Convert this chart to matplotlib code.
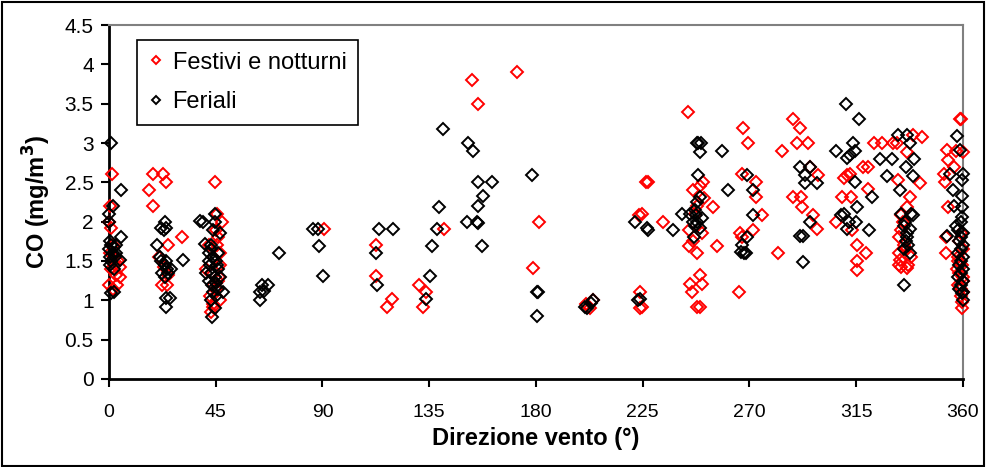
import matplotlib
matplotlib.use("Agg")
import matplotlib.pyplot as plt
from matplotlib.patches import Rectangle

plt.rcParams['font.family'] = ['Liberation Sans', 'DejaVu Sans']

# ---------------- data ----------------
series_names = ["Festivi e notturni", "Feriali"]

festivi_x = [
    1.1, 0.4, 0.2, 1, 1.7, 0.5, 2, 3.8, 4.6, 2.5, 4.6, 3, 0, 3.4, 1.5, 1,
    18.6, 22.8, 23.9, 16.9, 18.4, 30.6, 24.9, 22.2, 24.3, 25, 21, 23,
    44.7, 47.5, 45.4, 46.8, 44, 43, 45, 46, 42, 44, 47, 43, 46, 45, 42.5, 47, 44, 41, 46.5, 44, 45.5,
    90.6,
    112.4, 112.4, 119.2, 117.2,
    130.7, 133.6, 132.5, 141.2,
    152.9, 155.4, 172.2, 181.4, 178.9,
    202.8, 204, 201,
    226.4, 224.6, 223.5, 223.9, 223.9, 224.5,
    244, 250.5, 246.3, 249, 254.8, 227.1, 233.7, 244.7, 247.7, 256.4, 249.2, 245, 249.8, 245.6,
    247.7, 249, 248, 247, 250, 246, 251, 244.5,
    267.4, 269.3, 267, 272.8, 272.6, 275.4, 271.6, 267, 265.7, 282.2, 283.6, 266,
    288.5, 291.3, 290, 294.5, 288.5, 291.6, 292, 296.9, 295.5, 299, 298.3,
    322.5, 318, 320.1, 311.3, 312.5, 320.1, 308.9, 312.8, 306.4, 313, 315.5, 319.1, 315.5, 315.5, 310,
    339.1, 342.9, 336.2, 332.8, 341.9, 337.7, 336.2, 334, 333.5, 336.2, 333, 334, 333, 335, 336, 333,
    338, 334.5, 332, 330.5, 337, 334, 326,
    358.8, 359.2, 353.2, 353.8, 360, 352.4, 353.8, 352, 353, 353, 359.4, 359.4, 359, 358, 360, 358.5,
    359.5, 358, 360, 358.5, 359, 357.5, 360, 359, 358, 360, 357, 356,
]
festivi_y = [
    2.6, 2.2, 2.0, 1.92, 1.7, 1.6, 1.55, 1.5, 1.42, 1.45, 1.3, 1.32, 1.2, 1.2, 1.15, 1.4,
    2.6, 2.6, 2.5, 2.4, 2.2, 1.8, 1.7, 1.2, 1.2, 1.32, 1.55, 1.42,
    2.5, 2.0, 2.1, 1.6, 0.92, 0.85, 1.9, 1.8, 1.7, 1.55, 1.45, 1.35, 1.25, 1.15, 1.05, 1.0, 1.2, 1.4, 1.3, 0.95, 1.7,
    1.91,
    1.7, 1.31, 1.02, 0.92,
    1.19, 1.11, 0.92, 1.91,
    3.8, 3.5, 3.9, 2.0, 1.41,
    0.9, 1.0, 0.95,
    2.5, 2.1, 2.08, 1.11, 0.9, 0.92,
    3.4, 2.51, 2.4, 2.45, 2.19, 2.5, 2.0, 1.69, 1.6, 1.69, 1.32, 1.21, 1.21, 1.1,
    0.91, 0.91, 2.2, 2.1, 1.85, 1.75, 2.3, 1.9,
    3.19, 3.0, 2.6, 2.51, 2.31, 2.09, 1.9, 1.81, 1.1, 1.6, 2.9, 1.85,
    3.3, 3.19, 3.0, 3.0, 2.31, 2.31, 2.19, 2.08, 2.69, 2.59, 1.91,
    3.0, 2.69, 2.69, 2.59, 2.6, 2.41, 2.31, 2.31, 2.0, 1.9, 1.7, 1.6, 1.5, 1.39, 2.55,
    3.1, 3.08, 2.89, 2.53, 2.49, 2.31, 2.19, 2.08, 1.51, 1.41, 1.45, 1.9, 1.8, 1.7, 1.65, 1.6,
    1.55, 2.0, 3.0, 3.0, 1.45, 1.42, 3.0,
    3.31, 3.31, 2.91, 2.78, 2.89, 2.51, 2.19, 2.6, 1.8, 1.6, 0.9, 0.98, 1.05, 1.2, 1.25, 1.35,
    1.45, 1.55, 1.65, 1.75, 1.85, 1.4, 1.3, 1.15, 1.5, 1.1, 2.9, 2.7,
]

feriali_x = [
    1, 5, 1.5, 0, 0, 5, 0.5, 1, 2, 0, 1.5, 3, 0.5, 2.5, 4.5, 1, 0.5, 2, 1, 2, 3,
    23.6, 22, 24, 23, 20.1, 31.3, 22, 23.5, 24.5, 22.5, 25, 23.5, 24, 21.5, 24, 25.7, 23.9, 26,
    38.4, 39.8, 44.5, 44, 40.5, 43, 42, 44, 45, 42.5, 46, 43, 44.5, 42, 45, 43.5, 46, 44, 48.2, 45,
    43, 44.5, 43.3, 41, 47, 45.5, 42, 46, 47, 44.5, 43,
    63.7, 64.4, 67, 63.5, 65.5, 71.7,
    86, 88, 88.5, 90.2,
    113.8, 119.8, 112.4, 113,
    140.8, 139.1, 138.1, 136, 135.3, 133.6,
    151.2, 153.6, 155.4, 161.3, 157.7, 155.4, 150.8, 155, 155.5, 157.1, 178.2, 181, 180.5, 180.6,
    201.4, 204.2, 200.5, 203,
    221.7, 226.7, 223.2, 224,
    247.8, 248.5, 249.5, 249.2, 258.3, 248.2, 260.8, 249.2, 241.4, 247.6, 227.1, 237.9, 246, 248, 247,
    246.6, 248, 247, 249, 250, 245,
    268.8, 271.6, 271.6, 268.8, 267, 267.7, 268.5, 266.5,
    291.3, 295.5, 293.4, 293.4, 298.3, 295.5, 291.2, 292.5, 292.7,
    310.7, 316.3, 313.8, 306.5, 314.5, 311.3, 312.5, 314.5, 321.5, 315.5, 308.6, 310, 314.9, 311.3, 320.5, 312,
    332.4, 336.2, 337.7, 330, 339.5, 336, 328.1, 339.1, 333.5, 339.1, 335.6, 337.7, 336.2, 337.7, 335.2,
    334, 335, 336, 337, 335, 336.5, 338, 325,
    357.6, 358.8, 354.5, 360, 359.4, 355.9, 359.4, 359.4, 359.5, 353.2, 359, 358, 360, 359, 358.5, 360,
    359, 358, 360, 359, 358.5, 360, 359, 358, 360, 359, 358.5, 360, 359.4, 360, 356, 357,
]
feriali_y = [
    3.0, 2.4, 2.2, 2.1, 2.0, 1.8, 1.75, 1.7, 1.68, 1.65, 1.6, 1.6, 1.55, 1.55, 1.51, 1.5, 1.45, 1.4, 1.09, 1.1, 1.7,
    2.0, 1.92, 1.92, 1.9, 1.7, 1.51, 1.5, 1.45, 1.4, 1.35, 1.35, 1.3, 1.5, 1.55, 1.03, 1.03, 0.92, 1.4,
    2.01, 2.0, 2.1, 1.89, 1.72, 1.7, 1.6, 1.55, 1.5, 1.45, 1.4, 1.35, 1.3, 1.25, 1.22, 1.2, 1.15, 1.1, 1.11, 1.05,
    1.0, 0.9, 0.79, 1.35, 1.3, 1.45, 1.5, 1.6, 1.85, 2.0, 1.65,
    1.0, 1.19, 1.19, 1.1, 1.12, 1.6,
    1.91, 1.91, 1.69, 1.31,
    1.91, 1.91, 1.6, 1.19,
    3.18, 2.19, 1.91, 1.69, 1.31, 1.02,
    3.0, 2.9, 2.5, 2.5, 2.32, 2.2, 2.0, 2.0, 1.98, 1.69, 2.59, 1.1, 1.1, 0.8,
    0.9, 1.0, 0.92, 0.97,
    2.0, 1.92, 1.0, 1.02,
    3.0, 3.0, 3.0, 2.89, 2.9, 2.59, 2.4, 2.31, 2.1, 2.08, 1.9, 1.9, 2.0, 2.0, 1.95,
    1.81, 2.25, 2.15, 1.92, 2.05, 2.1,
    2.59, 2.4, 2.09, 1.81, 1.7, 1.6, 1.6, 1.62,
    2.69, 2.69, 2.59, 2.49, 2.49, 2.0, 1.82, 1.82, 1.49,
    3.49, 3.3, 3.0, 2.9, 2.9, 2.81, 2.85, 2.5, 2.31, 2.19, 2.08, 2.1, 2.0, 1.91, 1.9, 2.0,
    3.1, 3.1, 3.0, 2.8, 2.8, 2.69, 2.58, 2.58, 2.4, 2.08, 2.0, 1.91, 1.81, 1.6, 1.19,
    2.1, 1.95, 1.75, 1.7, 1.65, 1.85, 2.1, 2.8,
    3.09, 2.91, 2.61, 2.61, 2.53, 2.4, 2.32, 2.19, 2.06, 1.82, 2.0, 1.9, 1.85, 1.8, 1.75, 1.7,
    1.65, 1.6, 1.55, 1.5, 1.45, 1.4, 1.35, 1.3, 1.25, 1.2, 1.15, 1.1, 1.09, 1.0, 2.2, 1.95,
]

x_ticks = [0, 45, 90, 135, 180, 225, 270, 315, 360]
y_ticks = [0, 0.5, 1, 1.5, 2, 2.5, 3, 3.5, 4, 4.5]
x_label = "Direzione vento (°)"
y_label = "CO (mg/m$^\\mathbf{3}$)"

# ---------------- figure ----------------
fig = plt.figure(figsize=(9.87, 4.67), dpi=100)
ax = fig.add_axes([109 / 987, (467 - 379) / 467, (963 - 109) / 987, (379 - 25) / 467])

ms = 6.4
ax.plot(festivi_x, festivi_y, linestyle='none', marker='D', markersize=ms,
        markerfacecolor='none', markeredgecolor='#ff0000', markeredgewidth=1.4,
        clip_on=False, label=series_names[0], zorder=3)
ax.plot(feriali_x, feriali_y, linestyle='none', marker='D', markersize=ms,
        markerfacecolor='none', markeredgecolor='#000000', markeredgewidth=1.4,
        clip_on=False, label=series_names[1], zorder=4)

ax.set_xlim(0, 360)
ax.set_ylim(0, 4.5)
ax.set_xticks(x_ticks)
ax.set_yticks(y_ticks)
ax.set_xticklabels([f"{v:g}" for v in x_ticks], fontsize=14)
ax.set_yticklabels([f"{v:g}" for v in y_ticks], fontsize=15)
ax.tick_params(axis='both', direction='out', length=6, width=1.5, color='black')
ax.tick_params(axis='x', pad=12)
ax.tick_params(axis='y', pad=5)

for s in ['left', 'bottom']:
    ax.spines[s].set_color('black')
    ax.spines[s].set_linewidth(2)
for s in ['top', 'right']:
    ax.spines[s].set_color('#808080')
    ax.spines[s].set_linewidth(1.5)

ax.set_xlabel(x_label, fontsize=17, fontweight='bold', labelpad=4)
ax.set_ylabel(y_label, fontsize=17, fontweight='bold', labelpad=8)

leg = ax.legend(loc='upper left', bbox_to_anchor=(0.033, 0.958), fontsize=17,
                frameon=True, fancybox=False, framealpha=1, edgecolor='black',
                markerscale=0.6, handlelength=0.6, handletextpad=0.4,
                borderpad=0.5, labelspacing=0.75, borderaxespad=0)
leg.get_frame().set_linewidth(1.2)

fig.patches.append(Rectangle((0.002, 0.003), 0.995, 0.993, transform=fig.transFigure,
                             fill=False, edgecolor='black', linewidth=1.5))

fig.savefig("out.png", dpi=100)
